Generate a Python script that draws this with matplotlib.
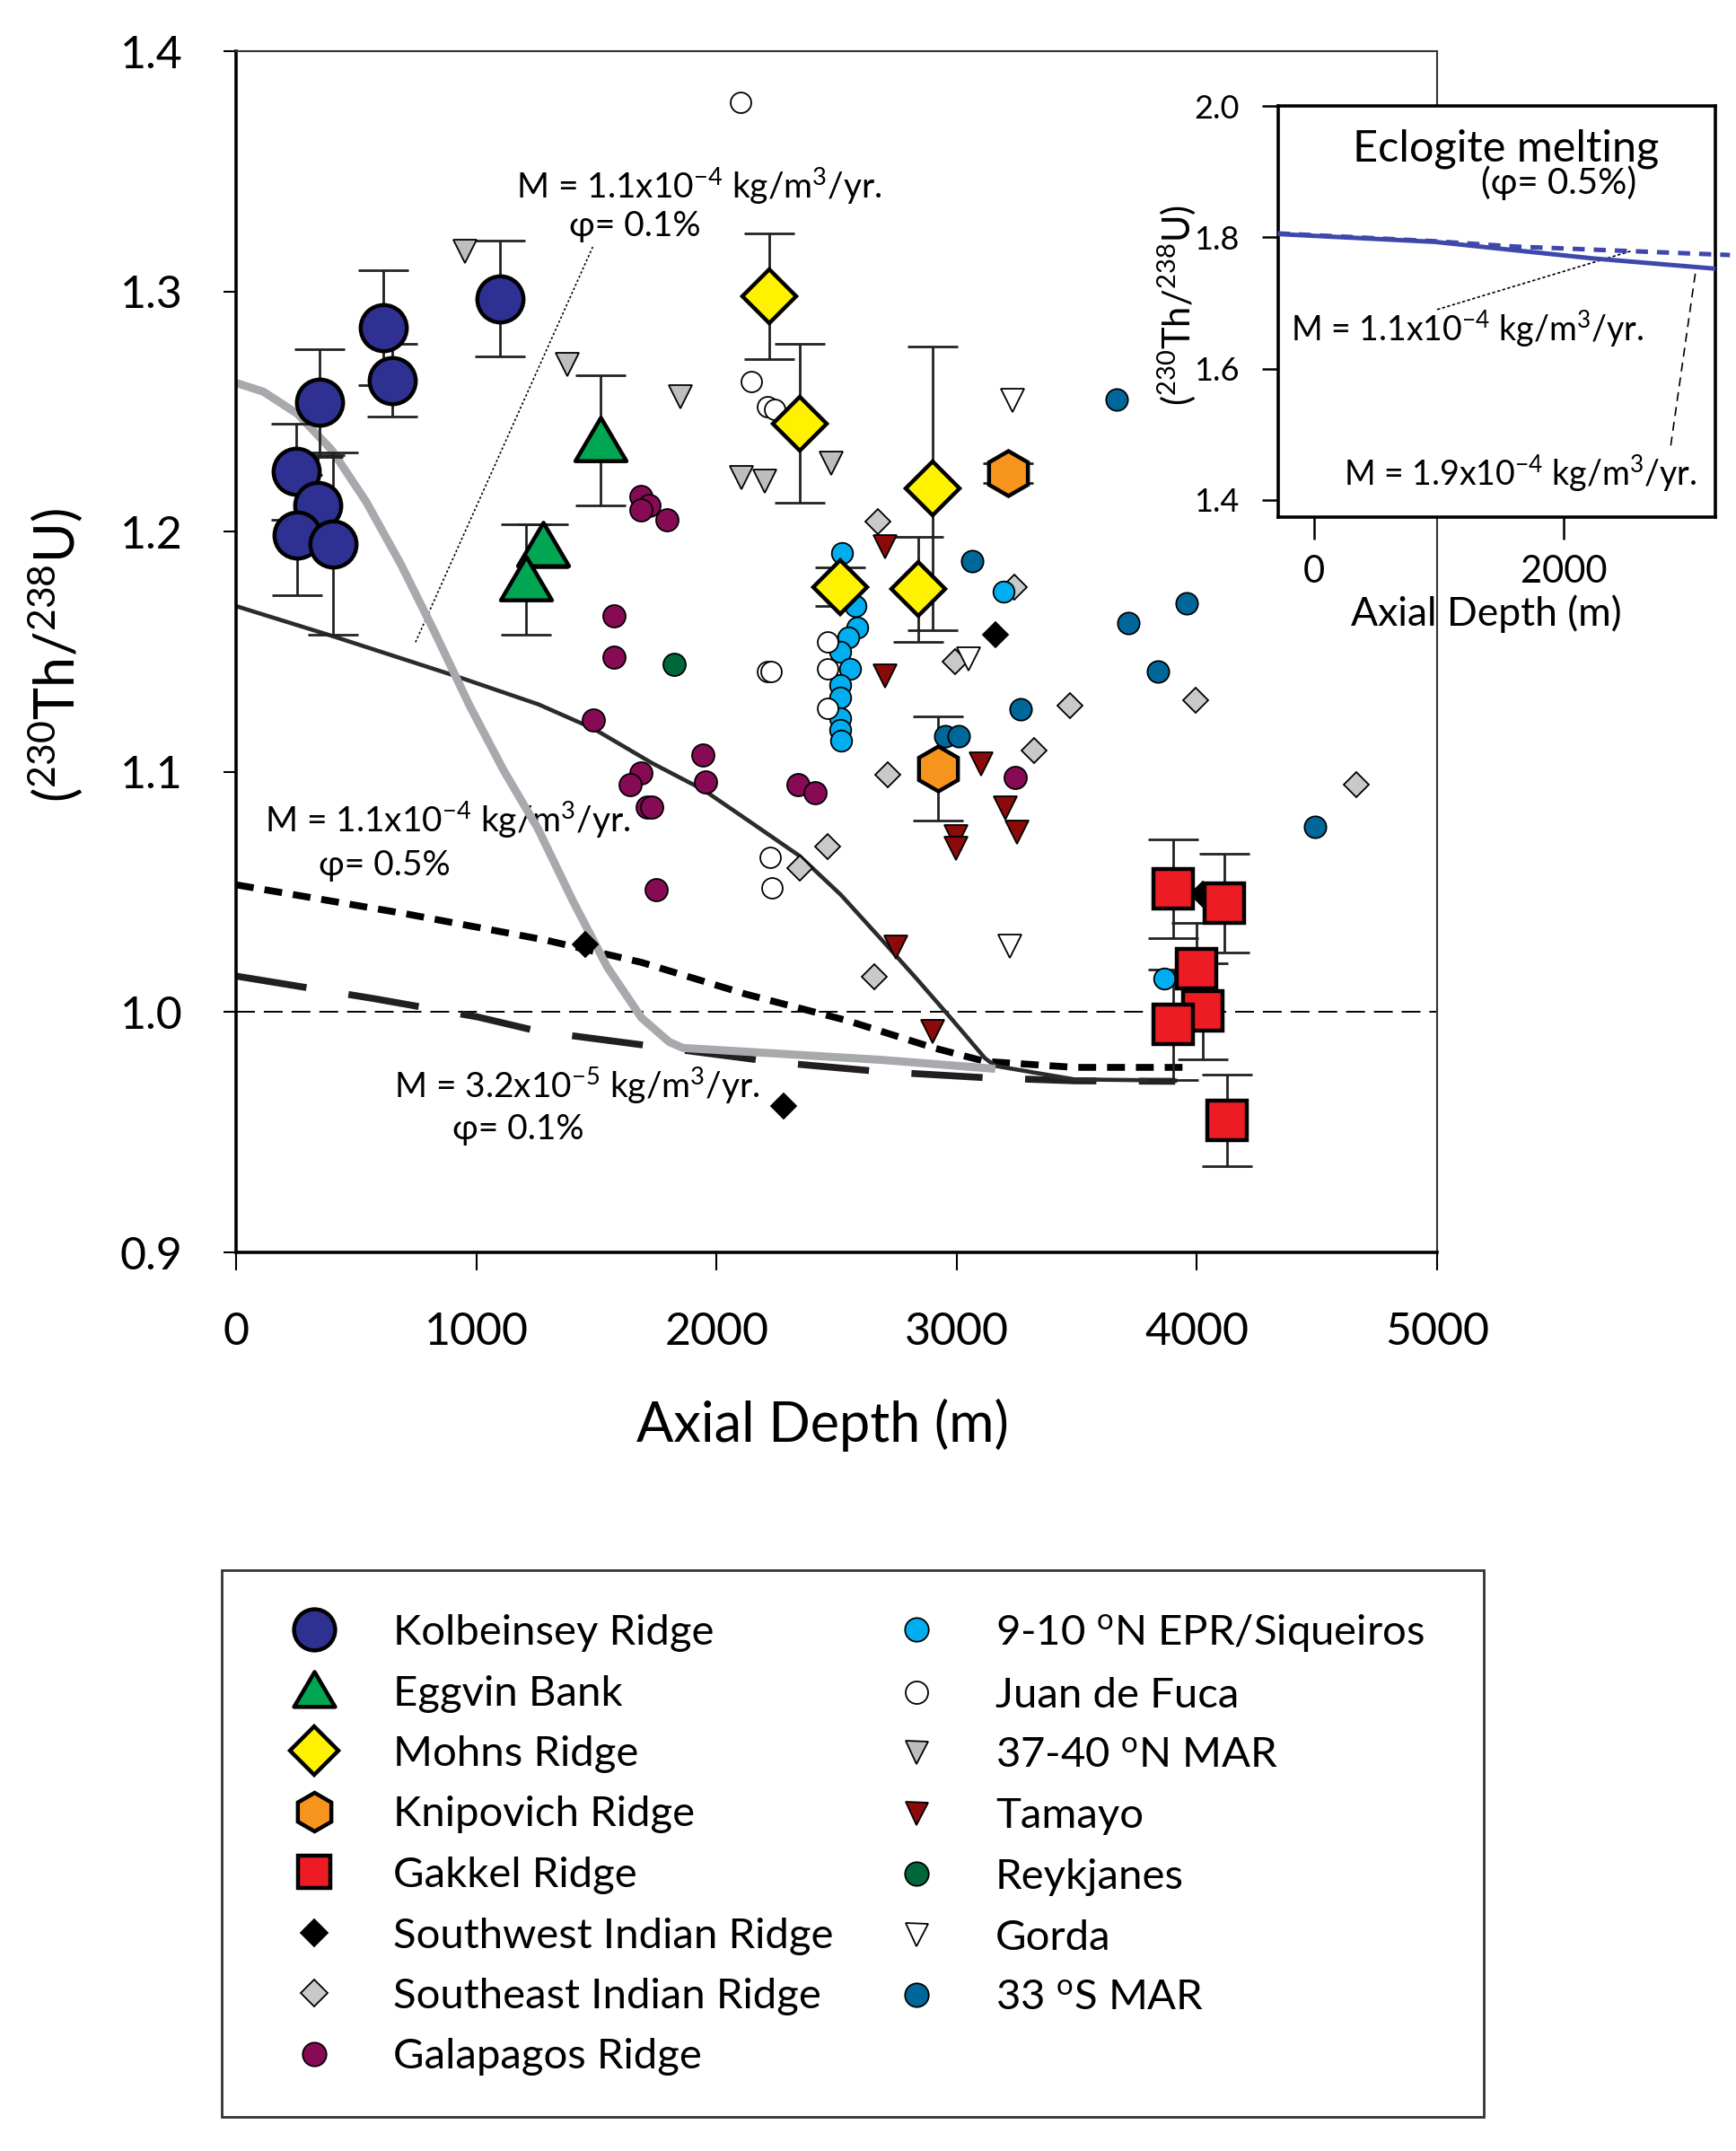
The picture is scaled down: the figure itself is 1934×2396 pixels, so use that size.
import matplotlib
matplotlib.use("Agg")
import matplotlib.pyplot as plt
from matplotlib.lines import Line2D
from matplotlib.patches import Rectangle
from matplotlib.path import Path

plt.rcParams['font.family'] = ['Lato', 'DejaVu Sans']
plt.rcParams['mathtext.fontset'] = 'custom'
plt.rcParams['mathtext.rm'] = 'Lato'
plt.rcParams['mathtext.it'] = 'Lato:italic'
plt.rcParams['mathtext.bf'] = 'Lato:bold'

# ---------------- data ----------------
kol_x = [348, 250, 340, 254, 404, 612, 651, 1098]
kol_y = [1.254, 1.225, 1.211, 1.1985, 1.195, 1.285, 1.263, 1.297]
kol_e = [0.022, 0.020, 0.020, 0.025, 0.038, 0.024, 0.015, 0.024]

egg_x = [1518, 1278, 1207]
egg_y = [1.238, 1.194, 1.180]
egg_e = [0.027, 0.009, 0.023]

moh_x = [2220, 2346, 2900, 2515, 2840]
moh_y = [1.298, 1.245, 1.218, 1.177, 1.176]
moh_e = [0.026, 0.033, 0.059, 0.008, 0.022]

kni_x = [3214, 2922]
kni_y = [1.2243, 1.1015]
kni_e = [0.004, 0.0217]

gak_x = [3901, 4114, 3998, 4025, 3901, 4127]
gak_y = [1.0513, 1.0453, 1.018, 1.0004, 0.9948, 0.955]
gak_e = [0.0205, 0.0206, 0.019, 0.020, 0.023, 0.019]

swir_x = [1454, 2280, 3162, 4025]
swir_y = [1.028, 0.961, 1.157, 1.049]

seir_x = [2672, 2993, 3240, 3472, 3322, 3995, 2713, 2463, 2346, 2657, 4664]
seir_y = [1.204, 1.146, 1.177, 1.1277, 1.109, 1.130, 1.0989, 1.069, 1.060, 1.0146, 1.0948]

gal_x = [1685, 1719, 1685, 1794, 1573, 1573, 1487, 1943, 1954, 1685, 1640,
         1711, 1730, 1749, 2339, 2410, 3244]
gal_y = [1.2146, 1.211, 1.209, 1.205, 1.1648, 1.1476, 1.1217, 1.107, 1.096,
         1.0996, 1.0948, 1.0854, 1.0854, 1.051, 1.0948, 1.0914, 1.0978]

epr_x = [2522, 2578, 2586, 2549, 2515, 2556, 2515, 2515, 2515, 2515, 2520, 3195, 3864]
epr_y = [1.191, 1.169, 1.160, 1.156, 1.150, 1.143, 1.136, 1.131, 1.1225, 1.1176,
         1.113, 1.175, 1.014]

jdf_x = [2100, 2145, 2212, 2242, 2463, 2463, 2463, 2212, 2227, 2224, 2231]
jdf_y = [1.3787, 1.2625, 1.252, 1.251, 1.154, 1.143, 1.1266, 1.1416, 1.1416,
         1.0644, 1.0517]

mar37_x = [953, 1379, 1850, 2104, 2201, 2478]
mar37_y = [1.3165, 1.2697, 1.256, 1.2225, 1.221, 1.2285]

tam_x = [2703, 2703, 3102, 3203, 3252, 2997, 2997, 2747, 2900]
tam_y = [1.1937, 1.140, 1.1034, 1.085, 1.075, 1.073, 1.068, 1.027, 0.992]

rey_x = [1824]
rey_y = [1.1446]

gor_x = [3232, 3221, 3049]
gor_y = [1.2547, 1.0273, 1.147]

mar33_x = [3666, 3064, 3714, 3957, 3838, 3266, 2952, 3008, 4492]
mar33_y = [1.255, 1.1876, 1.162, 1.170, 1.1416, 1.126, 1.115, 1.115, 1.077]

# model curves (main panel)
grey_x = [0, 113, 256, 399, 542, 685, 828, 971, 1114, 1257, 1402, 1545, 1688,
          1803, 1860, 2260, 2689, 3161]
grey_y = [1.2619, 1.2583, 1.249, 1.2339, 1.2124, 1.1866, 1.1579, 1.1278, 1.1006,
          1.0763, 1.0463, 1.0188, 0.9976, 0.9876, 0.9851, 0.9827, 0.9801, 0.9764]

solid_x = [0, 399, 911, 1259, 1488, 1731, 1946, 2146, 2346, 2518, 2689, 2833,
           2975, 3118, 3161, 3490, 3910]
solid_y = [1.169, 1.1566, 1.140, 1.1281, 1.118, 1.1037, 1.0925, 1.0788, 1.065,
           1.0488, 1.030, 1.0139, 0.9976, 0.9808, 0.9776, 0.972, 0.9715]

sdash_x = [0, 702, 1288, 1688, 2118, 2547, 2905, 3118, 3490, 3940]
sdash_y = [1.053, 1.041, 1.030, 1.0207, 1.0076, 0.9964, 0.9851, 0.9795, 0.977, 0.977]

ldash_x = [0, 575, 1005, 1259, 1688, 2260, 2689, 3118, 3490, 3910]
ldash_y = [1.015, 1.0056, 0.998, 0.992, 0.9864, 0.979, 0.9752, 0.9727, 0.9714, 0.9712]

# inset (eclogite melting) curves
ecl_solid_x = [-290, 970, 2225, 3228]
ecl_solid_y = [1.805, 1.793, 1.768, 1.752]
ecl_dash_x = [-290, 970, 1600, 3330]
ecl_dash_y = [1.806, 1.794, 1.786, 1.773]

xticks = [0, 1000, 2000, 3000, 4000, 5000]
yticks = [0.9, 1.0, 1.1, 1.2, 1.3, 1.4]
in_xticks = [0, 2000]
in_yticks = [1.4, 1.6, 1.8, 2.0]

labels = ["Kolbeinsey Ridge", "Eggvin Bank", "Mohns Ridge", "Knipovich Ridge",
          "Gakkel Ridge", "Southwest Indian Ridge", "Southeast Indian Ridge",
          "Galapagos Ridge",
          r"9-10 $^{\mathrm{o}}$N EPR/Siqueiros", "Juan de Fuca",
          r"37-40 $^{\mathrm{o}}$N MAR", "Tamayo", "Reykjanes", "Gorda",
          r"33 $^{\mathrm{o}}$S MAR"]

# ---------------- styles ----------------
tri_up = Path([(-1, -0.78), (1, -0.78), (0, 0.92), (0, 0)],
              [Path.MOVETO, Path.LINETO, Path.LINETO, Path.CLOSEPOLY])

big = dict(mec='black', mew=3.2, ls='none')
small = dict(mec='black', mew=1.3, ls='none')
styles = [
    dict(marker='o', ms=37, mfc='#2E3192', **big),
    dict(marker=tri_up, ms=41, mfc='#00A651', **big),
    dict(marker='D', ms=31, mfc='#FFF200', **big),
    dict(marker='h', ms=36, mfc='#F7941D', **big),
    dict(marker='s', ms=31, mfc='#ED1C24', **big),
    dict(marker='D', ms=14.5, mfc='black', **small),
    dict(marker='D', ms=14, mfc='#C8C9CA', **small),
    dict(marker='o', ms=18, mfc='#870A55', **small),
    dict(marker='o', ms=17, mfc='#00AEEF', **small),
    dict(marker='o', ms=16.5, mfc='white', **small),
    dict(marker='v', ms=19, mfc='#BCBEC0', **small),
    dict(marker='v', ms=19, mfc='#8B0A0A', **small),
    dict(marker='o', ms=18, mfc='#006838', **small),
    dict(marker='v', ms=19, mfc='white', **small),
    dict(marker='o', ms=17.5, mfc='#00679A', **small),
]
legend_ms = [33, 33, 27, 31, 26, 15, 15, 19, 19, 18, 18, 18, 19, 18, 19]

# ---------------- figure ----------------
fig = plt.figure(figsize=(19.34, 23.96), dpi=100)
ax = fig.add_axes([263 / 1934, 1 - 1395 / 2396, 1338 / 1934, 1338 / 2396])
ax.set_xlim(0, 5000)
ax.set_ylim(0.9, 1.4)

# reference line at 1.0
ax.axhline(1.0, color='black', lw=1.4, ls=(0, (10.8, 5.1)), zorder=1.5)

# model curves
ax.plot(ldash_x, ldash_y, color='#231F20', lw=5.5, ls=(0, (10.4, 6.2)), zorder=2)
ax.plot(sdash_x, sdash_y, color='black', lw=5.5, ls=(0, (2.6, 1.6)), zorder=2)
ax.plot(solid_x, solid_y, color='#2B2B2B', lw=3.3, zorder=2.1)
ax.plot(grey_x, grey_y, color='#A7A9AC', lw=6.5, zorder=2.2, solid_capstyle='butt')

# annotations
ann_fs = 28
ax.text(1166, 1.339, r"M = 1.1x10$^{-4}$ kg/m$^{3}$/yr.", fontsize=ann_fs, va='baseline', zorder=1)
ax.text(1386, 1.3232, "φ= 0.1%", fontsize=ann_fs, va='baseline', zorder=1)
ax.plot([747, 1487], [1.154, 1.319], color='black', lw=1.2, ls=(0, (1.5, 1.5)), zorder=1)
ax.text(121, 1.0749, r"M = 1.1x10$^{-4}$ kg/m$^{3}$/yr.", fontsize=ann_fs, va='baseline', zorder=1)
ax.text(344, 1.0569, "φ= 0.5%", fontsize=ann_fs, va='baseline', zorder=1)
ax.text(658, 0.9644, r"M = 3.2x10$^{-5}$ kg/m$^{3}$/yr.", fontsize=ann_fs, va='baseline', zorder=1)
ax.text(899, 0.9472, "φ= 0.1%", fontsize=ann_fs, va='baseline', zorder=1)

# error bars
eb = dict(fmt='none', ecolor='#222222', elinewidth=2, capsize=20, capthick=2, zorder=3)
ax.errorbar(kol_x, kol_y, yerr=kol_e, **eb)
ax.errorbar(egg_x, egg_y, yerr=egg_e, **eb)
ax.errorbar(moh_x, moh_y, yerr=moh_e, **eb)
ax.errorbar(kni_x, kni_y, yerr=kni_e, **eb)
ax.errorbar(gak_x, gak_y, yerr=gak_e, **eb)

# small symbols
series_small = [(swir_x, swir_y, 5), (seir_x, seir_y, 6), (gal_x, gal_y, 7),
                (epr_x, epr_y, 8), (jdf_x, jdf_y, 9), (mar37_x, mar37_y, 10),
                (tam_x, tam_y, 11), (rey_x, rey_y, 12), (gor_x, gor_y, 13),
                (mar33_x, mar33_y, 14)]
for xs, ys, i in series_small:
    ax.plot(xs, ys, zorder=4, **styles[i])

# big symbols
series_big = [(kol_x, kol_y, 0), (egg_x, egg_y, 1), (moh_x, moh_y, 2),
              (kni_x, kni_y, 3), (gak_x, gak_y, 4)]
for xs, ys, i in series_big:
    ax.plot(xs, ys, zorder=5, **styles[i])

# axes formatting
ax.set_xticks(xticks)
ax.set_xticklabels([str(v) for v in xticks])
ax.set_yticks(yticks)
ax.set_yticklabels([f"{v:.1f}" for v in yticks])
ax.tick_params(axis='y', direction='out', length=10, width=1.5, pad=33, labelsize=36)
ax.tick_params(axis='x', direction='out', length=14.5, width=1.5, pad=33, labelsize=36)
for s in ['left', 'bottom']:
    ax.spines[s].set_linewidth(2.6)
for s in ['top', 'right']:
    ax.spines[s].set_linewidth(1.5)
    ax.spines[s].set_color('#333333')

ax.set_xlabel("Axial Depth (m)", fontsize=44)
ax.xaxis.set_label_coords((916 - 263) / 1338, (1395 - 1606) / 1338)
ax.xaxis.label.set_va('baseline')
ax.set_ylabel(r"($^{230}$Th/$^{238}$U)", fontsize=44)
ax.yaxis.set_label_coords((62 - 263) / 1338, (1395 - 730) / 1338)
ax.yaxis.label.set_va('center')

# ---------------- inset ----------------
axi = fig.add_axes([1423.6 / 1934, 1 - 576 / 2396, 487.4 / 1934, 458 / 2396], zorder=10)
axi.set_facecolor('white')
axi.set_xlim(-289, 3213)
axi.set_ylim(1.374, 2.0)
axi.plot(ecl_solid_x, ecl_solid_y, color='#3F48AA', lw=3.6, zorder=3)
axi.plot(ecl_dash_x, ecl_dash_y, color='#3F48AA', lw=3.6, ls=(0, (2.7, 2.0)), zorder=3, clip_on=False)
axi.set_xticks(in_xticks)
axi.set_xticklabels([str(v) for v in in_xticks])
axi.set_yticks(in_yticks)
axi.set_yticklabels([f"{v:.1f}" for v in in_yticks])
axi.tick_params(axis='y', direction='out', length=13, width=1.8, pad=18, labelsize=26)
axi.tick_params(axis='x', direction='out', length=18, width=1.8, pad=12, labelsize=30)
for s in axi.spines.values():
    s.set_linewidth(2.6)
axi.set_xlabel("Axial Depth (m)", fontsize=32)
axi.xaxis.set_label_coords(0.477, -0.264)
axi.xaxis.label.set_va('baseline')
axi.set_ylabel(r"($^{230}$Th/$^{238}$U)", fontsize=30)
axi.yaxis.set_label_coords(-0.231, 0.515)
axi.yaxis.label.set_va('center')
axi.text(0.522, 0.865, "Eclogite melting", transform=axi.transAxes, fontsize=35,
         ha='center', va='baseline')
axi.text(0.642, 0.786, "(φ= 0.5%)", transform=axi.transAxes, fontsize=29,
         ha='center', va='baseline')
axi.text(-188, 1.642, r"M = 1.1x10$^{-4}$ kg/m$^{3}$/yr.", fontsize=27, va='baseline')
axi.text(235, 1.422, r"M = 1.9x10$^{-4}$ kg/m$^{3}$/yr.", fontsize=27, va='baseline')
axi.plot([986, 2537], [1.690, 1.779], color='black', lw=1.2, ls=(0, (2, 1.5)))
axi.plot([2856, 3057], [1.483, 1.751], color='black', lw=1.2, ls=(0, (6, 4)))

# ---------------- legend ----------------
handles = []
for st, ms in zip(styles, legend_ms):
    d = dict(st)
    d['ms'] = ms
    handles.append(Line2D([], [], **d))
leg = fig.legend(handles, labels, loc='upper left',
                 bbox_to_anchor=(287 / 1934, 1 - 1796 / 2396),
                 bbox_transform=fig.transFigure, ncol=2, frameon=False,
                 fontsize=34, borderpad=0, borderaxespad=0, handlelength=2.67,
                 handletextpad=0.53, columnspacing=0.62, labelspacing=0.54,
                 numpoints=1)
fig.add_artist(Rectangle((247 / 1934, 1 - 2358 / 2396), 1406 / 1934, 609 / 2396,
                         transform=fig.transFigure, fill=False, lw=2, ec='#333333'))

fig.savefig("out.png", dpi=100)
